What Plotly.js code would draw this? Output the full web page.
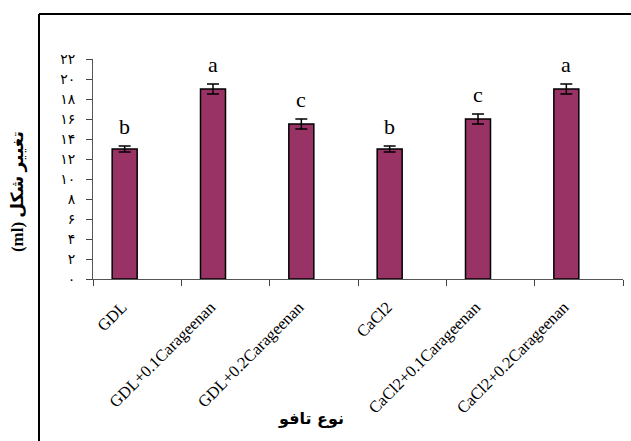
<!DOCTYPE html>
<html>
<head>
<meta charset="utf-8">
<script src="https://cdn.plot.ly/plotly-3.0.1.min.js"></script>
<style>html,body{margin:0;padding:0;background:#fff;}#chart{width:631px;height:441px;}</style>
</head>
<body>
<div id="chart"></div>
<script>
const categories = ["GDL", "GDL+0.1Carageenan", "GDL+0.2Carageenan", "CaCl2", "CaCl2+0.1Carageenan", "CaCl2+0.2Carageenan"];
const values = [13.0, 19.0, 15.5, 13.0, 16.0, 19.0];
const errors = [0.3, 0.5, 0.5, 0.3, 0.5, 0.5];
const letters = ["b", "a", "c", "b", "c", "a"];
const yTickVals = [0, 2, 4, 6, 8, 10, 12, 14, 16, 18, 20, 22];
const yTickText = ["۰", "۲", "۴", "۶", "۸", "۱۰", "۱۲", "۱۴", "۱۶", "۱۸", "۲۰", "۲۲"];
const xTitle = "نوع تافو";
const yTitle = "(ml) تغییر شکل";

const barOffset = -0.283;
const barWidth = 0.283;

const trace = {
  type: "bar",
  x: categories,
  y: values,
  offset: barOffset,
  width: barWidth,
  marker: { color: "#993366", line: { color: "#000", width: 1.5 } },
  error_y: { type: "data", array: errors, visible: true, color: "#000", thickness: 1.5, width: 6 },
  hoverinfo: "none"
};

const annotations = letters.map((t, i) => ({
  x: i + barOffset + barWidth / 2,
  y: values[i] + errors[i],
  xref: "x", yref: "y",
  text: t,
  showarrow: false,
  yanchor: "bottom",
  yshift: 5,
  font: { family: "Liberation Serif", size: 22, color: "#000" }
}));

annotations.push({
  xref: "paper", yref: "paper",
  x: 0.412, y: -0.636,
  text: "<b>" + xTitle + "</b>",
  showarrow: false,
  xanchor: "center", yanchor: "middle",
  font: { family: "DejaVu Sans", size: 16, color: "#000" }
});
annotations.push({
  xref: "paper", yref: "paper",
  x: -0.1415, y: 0.395,
  text: "<b>" + yTitle + "</b>",
  textangle: -90,
  showarrow: false,
  xanchor: "center", yanchor: "middle",
  font: { family: "Liberation Serif, DejaVu Sans", size: 17, color: "#000" }
});

const layout = {
  width: 631, height: 441,
  margin: { l: 93, r: 8, t: 59, b: 162, pad: 0 },
  paper_bgcolor: "#fff", plot_bgcolor: "#fff",
  showlegend: false,
  bargap: 0,
  xaxis: {
    type: "category",
    range: [-0.5, 5.5],
    tickson: "boundaries",
    ticks: "outside", ticklen: 6, tickwidth: 1, tickcolor: "#444",
    showline: true, linecolor: "#555", linewidth: 1,
    showgrid: false, zeroline: false,
    tickangle: -45,
    ticklabelstandoff: 11,
    ticklabelshift: -15,
    automargin: false,
    tickfont: { family: "Liberation Serif", size: 16.5, color: "#000" },
    fixedrange: true
  },
  yaxis: {
    range: [0, 22],
    tickmode: "array", tickvals: yTickVals, ticktext: yTickText,
    ticks: "outside", ticklen: 6, tickwidth: 1, tickcolor: "#444",
    showline: true, linecolor: "#555", linewidth: 1,
    showgrid: false, zeroline: false,
    ticklabelstandoff: 8,
    automargin: false,
    tickfont: { family: "DejaVu Sans", size: 14, color: "#000" },
    fixedrange: true
  },
  annotations: annotations,
  shapes: [
    { type: "line", xref: "paper", yref: "paper", x0: -0.1019, x1: -0.1019, y0: -0.75, y1: 1.2045, line: { color: "#000", width: 2 } },
    { type: "line", xref: "paper", yref: "paper", x0: -0.1019, x1: 1.02, y0: 1.2045, y1: 1.2045, line: { color: "#000", width: 2 } }
  ]
};

Plotly.newPlot("chart", [trace], layout, { displayModeBar: false, staticPlot: true });
</script>
</body>
</html>
